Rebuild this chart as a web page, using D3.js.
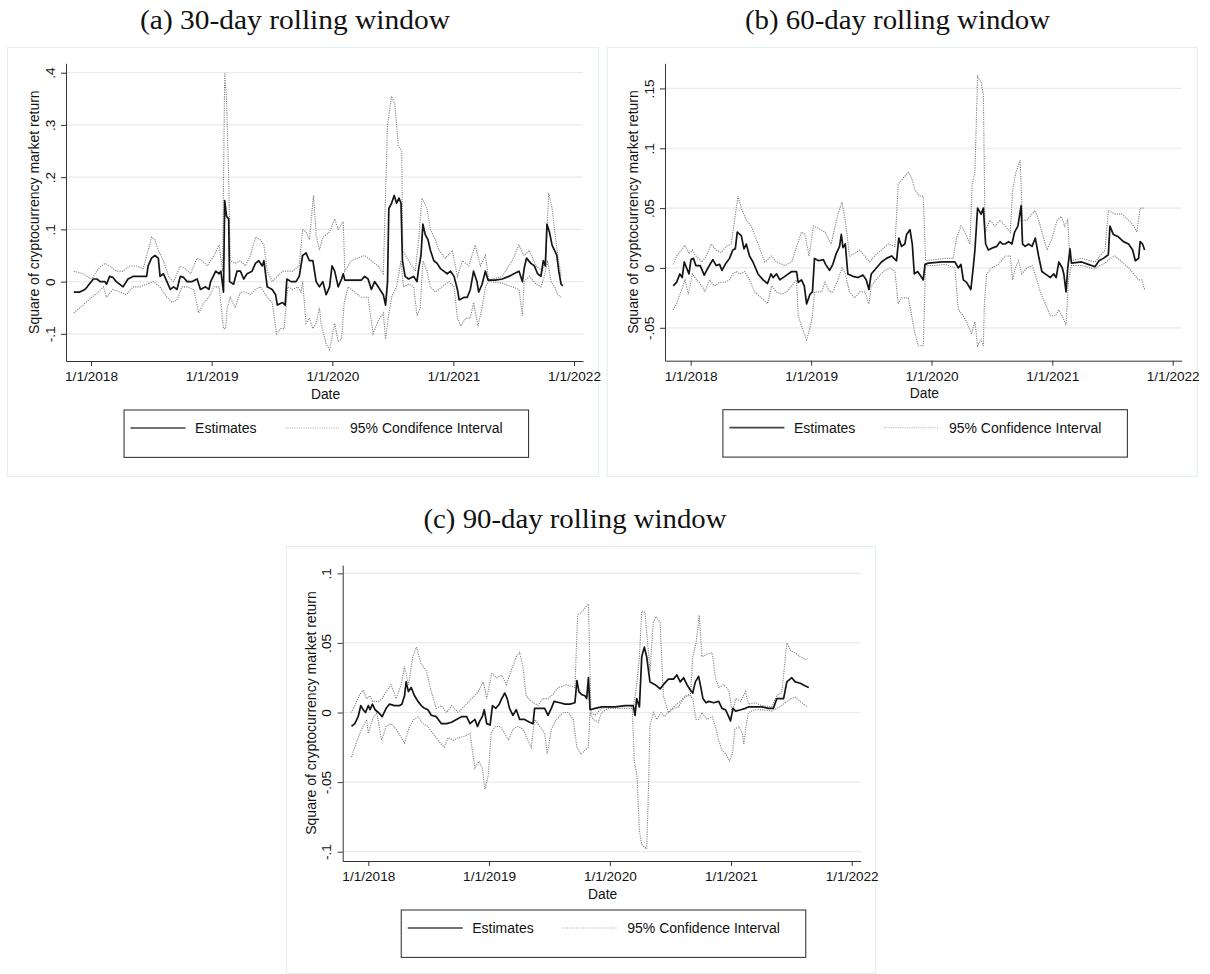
<!DOCTYPE html>
<html>
<head>
<meta charset="utf-8">
<script src="https://cdn.jsdelivr.net/npm/d3@7"></script>
<style>
  html, body { margin: 0; padding: 0; background: #fff; }
  svg { display: block; }
</style>
</head>
<body>
<svg id="chart" width="1210" height="974"></svg>
<script>
// ---------------- DATA ----------------
// time is expressed in months since 1/1/2018; values are coefficients
const xTickLabels = ["1/1/2018", "1/1/2019", "1/1/2020", "1/1/2021", "1/1/2022"];
const xTickMonths = [0, 12, 24, 36, 48];
const yTicksA = [-0.1, 0, 0.1, 0.2, 0.3, 0.4];
const yTicksB = [-0.05, 0, 0.05, 0.1, 0.15];
const yTicksC = [-0.1, -0.05, 0, 0.05, 0.1];
const titles = ["(a) 30-day rolling window", "(b) 60-day rolling window", "(c) 90-day rolling window"];
const legendLabelsA = ["Estimates", "95% Condifence Interval"];
const legendLabelsBC = ["Estimates", "95% Confidence Interval"];
const xTitle = "Date";
const yTitle = "Square of cryptocurrency market return";

const estA = [[-1.7,-0.02],[-1.1,-0.02],[-0.6,-0.015],[-0.37,-0.01],[0.23,0.005],[0.57,0.005],[0.9,0],[1.4,0],[1.57,-0.005],[1.9,0.01],[2.23,0.008],[2.57,0],[3.23,-0.01],[3.73,0.005],[4.23,0.01],[4.9,0.01],[5.57,0.01],[5.73,0.03],[6.07,0.045],[6.4,0.05],[6.73,0.045],[6.9,0.01],[7.23,0.015],[7.57,0],[7.9,-0.015],[8.23,-0.01],[8.57,-0.015],[8.9,0.01],[9.23,0.008],[9.57,0],[10.07,0],[10.57,0.005],[10.9,-0.015],[11.4,-0.01],[11.73,-0.015],[11.9,0],[12.4,0.02],[12.73,0.015],[12.9,0.02],[13.17,-0.02],[13.3,0.155],[13.5,0.125],[13.73,0.12],[13.83,0],[14.23,-0.005],[14.57,0.02],[14.9,0.02],[15.23,0.005],[15.57,0.015],[16.07,0.02],[16.4,0.035],[16.73,0.04],[17.07,0.03],[17.23,0.04],[17.57,-0.01],[18.07,-0.015],[18.4,-0.025],[18.57,-0.045],[19.07,-0.04],[19.33,-0.045],[19.5,0.005],[19.9,0],[20.4,0],[20.73,0.01],[21.07,0.05],[21.4,0.055],[21.73,0.04],[22.07,0.04],[22.4,0],[22.73,-0.01],[23.07,0],[23.4,-0.025],[23.73,-0.01],[23.97,0.03],[24.23,0.02],[24.57,-0.01],[24.9,0.005],[25.07,0.015],[25.23,0.003],[25.9,0.003],[26.9,0.003],[27.23,0.01],[27.57,0.005],[27.9,-0.015],[28.23,0],[28.57,-0.01],[29.07,-0.025],[29.3,-0.045],[29.5,0],[29.63,0.14],[29.9,0.15],[30.17,0.165],[30.4,0.15],[30.63,0.16],[30.83,0.15],[30.97,0.04],[31.23,0.01],[31.57,0.005],[32.07,0.01],[32.4,0],[32.57,0.025],[32.8,0.05],[33.0,0.11],[33.23,0.09],[33.5,0.08],[33.73,0.06],[34.07,0.04],[34.4,0.035],[34.73,0.025],[35.07,0.02],[35.4,0.015],[35.73,0.02],[36.07,0.01],[36.4,-0.015],[36.57,-0.035],[37.07,-0.03],[37.4,-0.03],[37.73,-0.015],[38.07,0.02],[38.4,0],[38.57,-0.02],[38.9,-0.005],[39.23,0.02],[39.5,0.003],[40.23,0.003],[40.9,0.005],[41.57,0.01],[42.07,0.015],[42.57,0.02],[42.9,0],[43.07,0.025],[43.3,0.045],[43.73,0.035],[44.07,0.03],[44.4,0.015],[44.73,0.01],[44.97,0.04],[45.17,0.03],[45.33,0.11],[45.57,0.095],[45.83,0.07],[46.07,0.06],[46.3,0.05],[46.5,0.02],[46.73,-0.005],[46.9,-0.008]];
const upA = [[-1.7,0.02],[-0.77,0.015],[0.07,0.005],[0.73,0.025],[1.4,0.035],[1.9,0.03],[2.57,0.02],[3.23,0.02],[3.9,0.03],[4.57,0.03],[5.23,0.025],[5.73,0.06],[6.07,0.085],[6.4,0.08],[6.73,0.06],[7.23,0.04],[7.73,0.01],[8.23,0],[8.9,0.03],[9.4,0.025],[9.9,0.015],[10.57,0.045],[11.07,0.04],[11.57,0.03],[12.23,0.05],[12.73,0.07],[13.07,0.02],[13.3,0.4],[13.5,0.35],[13.73,0.2],[13.9,0.04],[14.4,0.035],[14.9,0.04],[15.4,0.03],[15.9,0.05],[16.4,0.085],[16.9,0.08],[17.23,0.07],[17.57,0.02],[18.07,0],[18.57,0.01],[19.07,0.02],[19.5,0.02],[20.07,0.02],[20.73,0.03],[21.07,0.1],[21.4,0.095],[21.73,0.08],[22.13,0.165],[22.4,0.09],[22.73,0.06],[23.07,0.085],[23.4,0.09],[23.73,0.095],[24.23,0.12],[24.57,0.1],[25.07,0.115],[25.23,0.02],[25.9,0.04],[26.57,0.045],[27.23,0.05],[27.9,0.04],[28.57,0.03],[29.07,0.015],[29.5,0.3],[29.9,0.355],[30.23,0.34],[30.57,0.26],[30.9,0.25],[31.0,0.06],[31.57,0.04],[32.23,0.02],[32.57,0.08],[32.9,0.16],[33.4,0.14],[33.73,0.1],[34.23,0.08],[34.57,0.06],[35.23,0.045],[35.9,0.06],[36.4,0.01],[36.9,0.04],[37.57,0.03],[38.23,0.07],[38.73,0.03],[39.23,0.05],[39.57,0.003],[40.9,0.01],[41.9,0.04],[42.57,0.07],[43.07,0.05],[43.57,0.06],[44.23,0.03],[44.9,0.02],[45.23,0.05],[45.5,0.17],[45.83,0.14],[46.07,0.1],[46.4,0.05],[46.73,0.01]];
const loA = [[-1.7,-0.06],[-0.77,-0.045],[0.07,-0.03],[0.73,-0.02],[1.23,-0.01],[1.57,-0.03],[2.23,-0.015],[2.9,-0.02],[3.57,-0.025],[4.23,-0.01],[4.9,-0.01],[5.57,-0.005],[6.23,0],[6.9,-0.01],[7.57,-0.03],[8.07,-0.04],[8.57,-0.035],[9.07,-0.01],[9.57,-0.01],[10.23,-0.015],[10.73,-0.06],[11.23,-0.04],[11.73,-0.03],[12.23,-0.01],[12.73,-0.01],[13.17,-0.09],[13.4,-0.09],[13.57,-0.05],[13.9,-0.03],[14.4,-0.05],[14.9,-0.02],[15.4,-0.02],[15.9,-0.025],[16.4,-0.015],[16.9,-0.01],[17.57,-0.03],[18.07,-0.04],[18.5,-0.1],[18.9,-0.09],[19.23,-0.09],[19.57,-0.01],[20.07,-0.015],[20.57,-0.01],[20.9,-0.02],[21.07,0],[21.4,-0.08],[21.73,-0.07],[22.07,-0.09],[22.4,-0.08],[22.73,-0.05],[22.9,-0.08],[23.4,-0.12],[23.73,-0.13],[24.23,-0.08],[24.57,-0.115],[24.9,-0.11],[25.17,-0.04],[25.57,-0.01],[26.23,-0.02],[26.9,-0.03],[27.57,-0.03],[28.07,-0.1],[28.57,-0.075],[29.07,-0.06],[29.3,-0.11],[29.57,-0.07],[29.9,-0.03],[30.4,-0.01],[30.83,0.04],[31.07,-0.01],[31.57,-0.005],[32.07,-0.01],[32.4,-0.065],[32.73,-0.05],[33.0,0.04],[33.4,0.02],[33.73,-0.01],[34.23,-0.02],[34.9,-0.01],[35.57,0],[36.07,-0.01],[36.4,-0.07],[36.73,-0.085],[37.23,-0.07],[37.73,-0.07],[38.07,-0.04],[38.5,-0.085],[38.9,-0.05],[39.23,-0.01],[39.57,0],[40.9,-0.003],[41.9,-0.01],[42.57,-0.015],[42.9,-0.065],[43.07,0],[43.57,0.01],[44.23,-0.005],[44.73,-0.01],[45.07,0.01],[45.4,0.04],[45.73,0],[46.07,-0.01],[46.4,-0.025],[46.73,-0.03]];

const estB = [[-1.73,-0.015],[-1.4,-0.012],[-1.06,-0.005],[-0.83,-0.008],[-0.63,0.005],[-0.4,0],[-0.17,-0.005],[0.03,0.007],[0.27,0.008],[0.5,0.002],[0.93,0.002],[1.36,-0.006],[1.76,0],[2.26,0.007],[2.59,0.002],[2.92,0.003],[3.16,-0.002],[3.49,0.003],[3.92,0.008],[4.25,0.015],[4.49,0.016],[4.68,0.03],[5.08,0.027],[5.35,0.016],[5.58,0.02],[5.91,0.01],[6.25,0.005],[6.74,-0.005],[7.24,-0.01],[7.67,-0.013],[8.01,-0.005],[8.24,-0.008],[8.57,-0.005],[8.9,-0.01],[9.4,-0.007],[10.07,-0.003],[10.56,-0.003],[10.73,-0.012],[11.06,-0.01],[11.33,-0.015],[11.56,-0.03],[11.89,-0.022],[12.13,-0.02],[12.33,0.008],[12.72,0.006],[13.22,0.007],[13.46,0.003],[13.89,-0.002],[14.22,0.003],[14.55,0.012],[14.88,0.018],[15.05,0.028],[15.22,0.017],[15.45,0.02],[15.71,-0.005],[16.21,-0.007],[16.71,-0.008],[17.21,-0.006],[17.54,-0.01],[17.81,-0.018],[18.04,-0.005],[18.54,0],[19.04,0.005],[19.53,0.008],[20.03,0.01],[20.53,0.006],[20.76,0.025],[21.03,0.018],[21.36,0.02],[21.53,0.028],[21.86,0.032],[22.09,0.02],[22.29,-0.005],[22.62,-0.003],[22.96,-0.007],[23.19,-0.01],[23.36,0.003],[23.69,0.004],[25.02,0.005],[26.35,0.005],[26.68,0],[26.94,0.003],[27.18,-0.01],[27.51,-0.012],[27.94,-0.018],[28.17,0],[28.34,0.015],[28.6,0.05],[28.94,0.045],[29.17,0.05],[29.4,0.02],[29.67,0.015],[30.17,0.017],[30.5,0.018],[30.83,0.022],[31.06,0.02],[31.33,0.02],[31.66,0.022],[31.99,0.02],[32.26,0.03],[32.59,0.035],[32.92,0.052],[33.06,0.02],[33.32,0.018],[33.65,0.02],[33.99,0.018],[34.32,0.025],[34.65,0.01],[34.98,-0.003],[35.48,-0.006],[35.81,-0.008],[36.15,-0.005],[36.38,-0.008],[36.64,0.005],[36.98,0],[37.14,-0.005],[37.38,-0.02],[37.57,0],[37.81,0.016],[37.97,0.004],[38.97,0.005],[39.63,0.003],[40.3,0.001],[40.7,0.006],[41.13,0.008],[41.63,0.011],[41.79,0.035],[42.13,0.028],[42.62,0.026],[43.12,0.022],[43.62,0.02],[44.02,0.015],[44.29,0.006],[44.62,0.008],[44.78,0.022],[45.02,0.02],[45.22,0.015]];
const upB = [[-1.73,0.003],[-1.4,0.01],[-0.9,0.015],[-0.56,0.019],[-0.17,0.012],[0.17,0.015],[0.5,0.01],[1.1,0.005],[1.59,0.01],[2.09,0.02],[2.59,0.015],[3.09,0.013],[3.59,0.018],[4.09,0.02],[4.42,0.04],[4.75,0.06],[5.08,0.05],[5.58,0.04],[6.08,0.035],[6.74,0.02],[7.41,0.005],[8.07,0.01],[8.57,0.005],[9.4,0.002],[10.07,0.005],[10.66,0.02],[11.06,0.03],[11.4,0.028],[11.79,0.01],[12.23,0.035],[12.72,0.033],[13.39,0.03],[14.05,0.02],[14.72,0.045],[15.12,0.055],[15.45,0.04],[15.88,0.01],[16.38,0.012],[16.88,0.015],[17.38,0.01],[17.87,0.005],[18.37,0.01],[19.04,0.015],[19.7,0.02],[20.37,0.018],[20.7,0.07],[21.2,0.075],[21.69,0.08],[22.03,0.075],[22.36,0.065],[22.86,0.06],[23.19,0.06],[23.42,0.006],[24.35,0.007],[25.35,0.008],[26.18,0.008],[26.51,0.025],[26.94,0.035],[27.34,0.03],[27.84,0.02],[28.07,0.07],[28.34,0.08],[28.6,0.16],[28.94,0.155],[29.17,0.145],[29.34,0.03],[29.83,0.04],[30.33,0.035],[30.83,0.04],[31.33,0.035],[31.83,0.03],[32.06,0.065],[32.39,0.08],[32.82,0.09],[33.06,0.04],[33.49,0.04],[33.99,0.045],[34.32,0.048],[34.65,0.04],[34.98,0.03],[35.48,0.015],[35.98,0.025],[36.48,0.04],[36.88,0.043],[37.24,0.035],[37.57,0.04],[37.81,0.006],[38.97,0.008],[40.3,0.005],[40.8,0.01],[41.3,0.015],[41.63,0.048],[42.29,0.045],[42.96,0.045],[43.62,0.04],[44.12,0.035],[44.45,0.03],[44.78,0.05],[45.12,0.05]];
const loB = [[-1.73,-0.035],[-1.4,-0.03],[-0.96,-0.02],[-0.56,-0.01],[-0.23,-0.022],[0.17,-0.005],[0.6,-0.01],[1.1,-0.015],[1.43,-0.02],[1.93,-0.01],[2.43,-0.015],[2.92,-0.012],[3.42,-0.012],[3.92,-0.01],[4.25,-0.005],[4.58,-0.003],[4.92,-0.005],[5.42,-0.003],[5.91,-0.01],[6.41,-0.02],[7.08,-0.025],[7.67,-0.03],[8.07,-0.015],[8.57,-0.02],[9.07,-0.022],[9.57,-0.02],[10.07,-0.015],[10.56,-0.01],[10.73,-0.04],[11.13,-0.05],[11.56,-0.06],[11.89,-0.05],[12.13,-0.04],[12.33,-0.02],[12.72,-0.02],[13.06,-0.02],[13.39,-0.012],[13.89,-0.02],[14.22,-0.02],[14.72,-0.01],[15.12,0],[15.45,-0.005],[15.88,-0.02],[16.38,-0.025],[16.88,-0.02],[17.38,-0.02],[17.81,-0.03],[18.04,-0.015],[18.7,-0.008],[19.2,-0.003],[19.87,0],[20.37,-0.003],[20.7,-0.03],[21.03,-0.025],[21.36,-0.025],[21.69,-0.025],[22.03,-0.04],[22.36,-0.055],[22.69,-0.065],[23.19,-0.065],[23.42,0.002],[24.35,0.002],[25.35,0.003],[26.35,0],[26.68,-0.035],[27.18,-0.04],[27.51,-0.045],[28.01,-0.055],[28.34,-0.045],[28.6,-0.065],[28.94,-0.06],[29.17,-0.065],[29.27,-0.03],[29.5,-0.005],[30.0,0],[30.66,0.003],[31.33,0.01],[31.83,0.01],[32.06,-0.01],[32.33,0],[32.66,0.006],[32.99,-0.005],[33.49,0],[33.99,0.002],[34.49,-0.01],[34.82,-0.02],[35.32,-0.03],[35.81,-0.04],[36.31,-0.04],[36.64,-0.035],[36.98,-0.04],[37.38,-0.048],[37.64,-0.01],[37.97,0.002],[38.97,0.002],[40.3,-0.001],[40.8,0.002],[41.3,0.004],[41.79,0.008],[42.29,0.01],[42.96,0.005],[43.62,0],[44.12,-0.005],[44.62,-0.01],[44.95,-0.01],[45.22,-0.018]];

const estC = [[-1.66,-0.01],[-1.33,-0.008],[-0.99,-0.003],[-0.73,0.005],[-0.5,0.002],[-0.27,0],[0,0.005],[0.17,0.002],[0.4,0.006],[0.66,0.002],[0.99,0],[1.39,-0.003],[1.82,0.003],[2.15,0.006],[2.65,0.005],[3.15,0.005],[3.38,0.006],[3.65,0.012],[3.81,0.022],[4.04,0.015],[4.31,0.018],[4.64,0.012],[4.97,0.008],[5.3,0.005],[5.63,0.003],[5.97,0.002],[6.3,-0.002],[6.79,-0.003],[7.29,-0.008],[7.79,-0.008],[8.29,-0.007],[8.78,-0.005],[9.28,-0.003],[9.78,-0.003],[10.11,-0.008],[10.61,-0.005],[10.87,-0.01],[11.1,-0.006],[11.34,-0.003],[11.53,0.002],[11.77,-0.008],[12.1,-0.009],[12.33,0.005],[12.66,0.003],[12.99,0.006],[13.26,0.01],[13.59,0.014],[13.85,0.01],[14.09,0.003],[14.42,-0.002],[14.75,0.002],[15.08,-0.005],[15.58,-0.005],[16.08,-0.007],[16.41,-0.008],[16.57,0.003],[17.07,0.003],[17.57,0.003],[17.9,-0.002],[18.23,0.003],[18.5,0.008],[19.06,0.007],[19.56,0.006],[20.05,0.006],[20.55,0.007],[20.75,0.023],[20.95,0.015],[21.21,0.013],[21.54,0.012],[21.71,0.01],[21.88,0.025],[22.04,0.002],[22.54,0.003],[23.2,0.004],[24.53,0.004],[25.52,0.005],[26.35,0.005],[26.52,-0.002],[26.68,0.01],[26.95,0.004],[27.18,0.04],[27.44,0.047],[27.68,0.04],[28.01,0.022],[28.51,0.02],[29.0,0.017],[29.33,0.02],[29.83,0.024],[30.33,0.024],[30.66,0.027],[30.99,0.022],[31.32,0.025],[31.65,0.02],[31.99,0.016],[32.22,0.014],[32.48,0.022],[32.81,0.026],[32.98,0.02],[33.24,0.01],[33.54,0.007],[33.81,0.008],[34.31,0.007],[34.8,0.008],[35.13,0.003],[35.47,0.002],[35.73,-0.002],[35.96,-0.006],[36.2,0.003],[36.46,0.001],[36.96,0.002],[37.46,0.003],[37.79,0.004],[38.45,0.004],[39.11,0.004],[39.78,0.003],[40.27,0.003],[40.6,0.01],[40.93,0.01],[41.27,0.01],[41.6,0.022],[42.1,0.025],[42.43,0.022],[42.92,0.021],[43.42,0.019],[43.75,0.018]];
const upC = [[-1.66,0],[-1.33,0.005],[-0.83,0.013],[-0.5,0.016],[-0.17,0.01],[0.17,0.012],[0.4,0.008],[0.99,0.008],[1.39,0.01],[1.82,0.015],[2.32,0.02],[2.82,0.01],[3.31,0.02],[3.65,0.033],[4.04,0.02],[4.47,0.04],[4.81,0.047],[5.3,0.035],[5.8,0.03],[6.3,0.015],[6.79,0.003],[7.29,0.005],[7.79,0],[8.29,0.005],[8.95,0],[9.61,0.005],[10.28,0.01],[10.94,0.015],[11.44,0.022],[11.77,0.01],[12.26,0.028],[12.76,0.025],[13.26,0.027],[13.76,0.02],[14.25,0.03],[14.75,0.04],[15.08,0.043],[15.41,0.033],[15.74,0.012],[16.24,0.008],[16.9,0.005],[17.4,0.01],[17.9,0.01],[18.4,0.013],[18.89,0.018],[19.72,0.02],[20.55,0.018],[20.82,0.07],[21.21,0.072],[21.54,0.075],[21.88,0.078],[22.14,0],[22.54,-0.002],[23.2,0.003],[24.53,0.004],[26.02,0.005],[26.35,0.003],[26.68,0.02],[26.95,0.04],[27.18,0.073],[27.51,0.072],[27.78,0.05],[28.01,0.03],[28.34,0.065],[28.57,0.069],[29.0,0.065],[29.33,0.012],[29.83,0],[30.49,0.005],[30.99,0.008],[31.49,0.012],[31.99,0.012],[32.22,0.04],[32.55,0.05],[32.88,0.07],[33.14,0.04],[33.64,0.042],[34.14,0.043],[34.47,0.025],[34.8,0.018],[35.3,0.02],[35.8,0.016],[36.13,0],[36.46,0.01],[36.96,0.008],[37.46,0.015],[37.79,0.006],[38.45,0.007],[39.11,0.005],[40.11,0.004],[40.6,0.012],[41.1,0.015],[41.6,0.05],[42.03,0.044],[42.43,0.043],[42.92,0.04],[43.42,0.038],[43.65,0.039]];
const loC = [[-1.66,-0.032],[-1.33,-0.025],[-0.83,-0.015],[-0.5,-0.01],[-0.17,-0.005],[0,-0.015],[0.4,-0.005],[0.83,0],[1.33,-0.02],[1.82,-0.01],[2.32,-0.008],[2.82,-0.012],[3.31,-0.018],[3.65,-0.022],[4.14,-0.01],[4.57,-0.005],[4.97,-0.003],[5.47,-0.008],[5.97,-0.01],[6.46,-0.015],[6.96,-0.02],[7.56,-0.025],[7.95,-0.018],[8.45,-0.02],[8.95,-0.018],[9.61,-0.017],[10.11,-0.015],[10.61,-0.04],[11.0,-0.035],[11.34,-0.04],[11.6,-0.055],[11.93,-0.045],[12.2,-0.015],[12.6,-0.01],[13.09,-0.01],[13.59,-0.015],[13.99,-0.02],[14.42,-0.012],[14.92,-0.01],[15.41,-0.012],[15.91,-0.02],[16.24,-0.025],[16.57,-0.005],[17.07,-0.01],[17.57,-0.015],[17.83,-0.03],[18.23,-0.012],[18.73,-0.005],[19.39,0],[19.89,0],[20.38,-0.005],[20.75,-0.025],[21.15,-0.03],[21.54,-0.027],[21.88,-0.025],[22.04,0],[22.37,-0.005],[22.87,-0.007],[23.2,0],[23.87,0.003],[24.86,0.003],[25.85,0.003],[26.25,0.003],[26.45,-0.035],[26.71,-0.045],[26.95,-0.085],[27.18,-0.095],[27.51,-0.097],[27.68,-0.098],[27.84,-0.06],[28.01,-0.01],[28.34,0],[28.67,-0.005],[29.1,0],[29.43,-0.003],[29.83,0],[30.33,0.003],[30.82,0.004],[31.32,0.01],[31.82,0.013],[32.22,0.01],[32.55,-0.005],[32.88,-0.005],[33.14,0],[33.64,-0.005],[34.14,-0.003],[34.47,-0.01],[34.8,-0.02],[35.13,-0.027],[35.53,-0.03],[35.86,-0.035],[36.13,-0.03],[36.39,-0.012],[36.79,-0.01],[37.13,-0.015],[37.29,-0.023],[37.52,-0.01],[37.79,0],[38.45,0.002],[39.11,0.002],[40.11,0.001],[40.6,0.003],[41.1,0.005],[41.6,0.008],[42.03,0.01],[42.43,0.011],[42.92,0.008],[43.42,0.005],[43.65,0.004]];

// ---------------- LAYOUT ----------------
const panels = [
  { title: titles[0], titleX: 295, titleY: 29, titleW: 310,
    frame: [7, 47, 598, 476], left: 66, right: 583, top: 63.3, bottom: 361,
    px2018: 91, px2022: 574, yDomain: [-0.152, 0.418], yTicks: yTicksA,
    est: estA, up: upA, lo: loA, legend: legendLabelsA },
  { title: titles[1], titleX: 897.5, titleY: 29, titleW: 305,
    frame: [606.7, 47, 1196.7, 476], left: 665, right: 1181.7, top: 63.3, bottom: 360.7,
    px2018: 690.7, px2022: 1172.7, yDomain: [-0.0775, 0.171], yTicks: yTicksB,
    est: estB, up: upB, lo: loB, legend: legendLabelsBC },
  { title: titles[2], titleX: 575, titleY: 528, titleW: 303,
    frame: [286, 546, 875, 973], left: 342.7, right: 860.7, top: 565, bottom: 861,
    px2018: 368.3, px2022: 851.7, yDomain: [-0.1067, 0.106], yTicks: yTicksC,
    est: estC, up: upC, lo: loC, legend: legendLabelsBC }
];

const base = new Date(2018, 0, 1);
function monthsToDate(t) {
  const m = Math.floor(t);
  const d = d3.timeMonth.offset(base, m);
  const n = d3.timeMonth.offset(d, 1);
  return new Date(+d + (t - m) * (n - d));
}
function yFmt(v) {
  let s = String(+v.toFixed(3));
  return s.replace(/^(-?)0\./, "$1.");
}

const svg = d3.select("#chart");
const sansFont = "'Liberation Sans', Arial, Helvetica, sans-serif";

panels.forEach(p => {
  const g = svg.append("g");
  const [fx0, fy0, fx1, fy1] = p.frame;

  // frame
  g.append("rect").attr("x", fx0 + 0.5).attr("y", fy0 + 0.5)
    .attr("width", fx1 - fx0).attr("height", fy1 - fy0)
    .attr("fill", "#fff").attr("stroke", "#e6eef1").attr("stroke-width", 1.2);

  // title
  svg.append("text").attr("x", p.titleX).attr("y", p.titleY)
    .attr("text-anchor", "middle")
    .attr("font-family", "'Liberation Serif', 'DejaVu Serif', serif")
    .attr("font-size", 26.5).attr("fill", "#111")
    .attr("textLength", p.titleW).attr("lengthAdjust", "spacingAndGlyphs")
    .text(p.title);

  // scales
  const x = d3.scaleTime()
    .domain([monthsToDate(xTickMonths[0]), monthsToDate(xTickMonths[4])])
    .range([p.px2018, p.px2022]);
  x.domain([x.invert(p.left), x.invert(p.right)]).range([p.left, p.right]);
  const y = d3.scaleLinear().domain(p.yDomain).range([p.bottom, p.top]);

  // grid
  g.append("g").selectAll("line").data(p.yTicks).join("line")
    .attr("x1", p.left).attr("x2", p.right)
    .attr("y1", d => y(d)).attr("y2", d => y(d))
    .attr("stroke", "#e3ecef").attr("stroke-width", 1.2);

  const line = d3.line().x(d => x(monthsToDate(d[0]))).y(d => y(d[1]));

  // CI lines
  [p.up, p.lo].forEach(s => {
    g.append("path").datum(s).attr("d", line)
      .attr("fill", "none").attr("stroke", "#7d7d7d")
      .attr("stroke-width", 1.1).attr("stroke-dasharray", "1.1,1.2");
  });
  // estimates
  g.append("path").datum(p.est).attr("d", line)
    .attr("fill", "none").attr("stroke", "#151515")
    .attr("stroke-width", 1.7).attr("stroke-linejoin", "round");

  // x axis
  const xa = g.append("g").attr("transform", `translate(0,${p.bottom})`)
    .call(d3.axisBottom(x)
      .tickValues(xTickMonths.map(monthsToDate))
      .tickFormat((d, i) => xTickLabels[i])
      .tickSize(5).tickSizeOuter(0));
  xa.select(".domain").attr("stroke", "#333");
  xa.selectAll(".tick line").attr("stroke", "#333");
  xa.selectAll(".tick text").attr("y", 10.5)
    .attr("font-family", sansFont).attr("font-size", 13.6).attr("fill", "#111");

  // y axis
  const ya = g.append("g").attr("transform", `translate(${p.left},0)`)
    .call(d3.axisLeft(y).tickValues(p.yTicks).tickFormat(yFmt)
      .tickSize(5).tickSizeOuter(0));
  ya.select(".domain").attr("stroke", "#333");
  ya.selectAll(".tick line").attr("stroke", "#333");
  ya.selectAll(".tick text")
    .attr("x", 0).attr("dy", null)
    .attr("transform", "translate(-16,0) rotate(-90)")
    .attr("text-anchor", "middle").attr("dominant-baseline", "central")
    .attr("font-family", sansFont).attr("font-size", 13.6).attr("fill", "#111");

  // axis titles
  g.append("text").attr("x", (p.left + p.right) / 2 + 1).attr("y", p.bottom + 33)
    .attr("text-anchor", "middle").attr("dominant-baseline", "central")
    .attr("font-family", sansFont).attr("font-size", 13.8).attr("fill", "#111")
    .text(xTitle);
  g.append("text")
    .attr("transform", `translate(${p.left - 32},${(p.top + p.bottom) / 2}) rotate(-90)`)
    .attr("text-anchor", "middle").attr("dominant-baseline", "central")
    .attr("font-family", sansFont).attr("font-size", 14).attr("fill", "#111")
    .text(yTitle);

  // legend
  const lw = 404.5, lh = 47.4;
  const lx = (p.left + p.right) / 2 + 1.3 - lw / 2;
  const ly = p.bottom + 48.5;
  const lg = g.append("g").attr("transform", `translate(${lx},${ly})`);
  lg.append("rect").attr("x", 0.5).attr("y", 0.5).attr("width", lw).attr("height", lh)
    .attr("fill", "#fff").attr("stroke", "#3a3a3a").attr("stroke-width", 1.1);
  const rowY = 18.5;
  lg.append("line").attr("x1", 7).attr("x2", 62).attr("y1", rowY).attr("y2", rowY)
    .attr("stroke", "#444").attr("stroke-width", 1.7);
  lg.append("text").attr("x", 71.5).attr("y", rowY).attr("dominant-baseline", "central")
    .attr("font-family", sansFont).attr("font-size", 14).attr("fill", "#111")
    .text(p.legend[0]);
  lg.append("line").attr("x1", 161.7).attr("x2", 217).attr("y1", rowY).attr("y2", rowY)
    .attr("stroke", "#aaa").attr("stroke-width", 1).attr("stroke-dasharray", "1,1.3");
  lg.append("text").attr("x", 226.5).attr("y", rowY).attr("dominant-baseline", "central")
    .attr("font-family", sansFont).attr("font-size", 14).attr("fill", "#111")
    .text(p.legend[1]);
});
</script>
</body>
</html>
